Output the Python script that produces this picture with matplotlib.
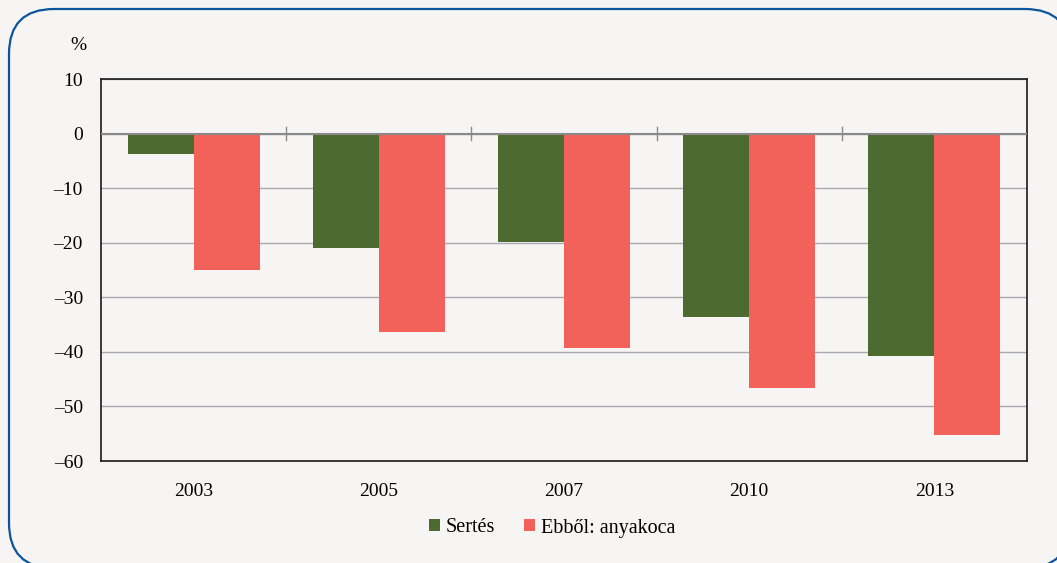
import matplotlib.pyplot as plt
import numpy as np
from matplotlib.patches import FancyBboxPatch

# Data
years = ['2003', '2005', '2007', '2010', '2013']
sertes = [-3.7, -21.0, -19.9, -33.6, -40.8]
anyakoca = [-25.0, -36.4, -39.3, -46.6, -55.2]

bg = '#f7f5f3'
green = '#4d6a30'
red = '#f2625a'

plt.rcParams['font.family'] = ['Liberation Serif', 'DejaVu Serif']

fig = plt.figure(figsize=(10.57, 5.63), dpi=100, facecolor=bg)
ax = fig.add_axes([101 / 1057, 1 - 461 / 563, 926 / 1057, 382 / 563])
ax.set_facecolor(bg)

# rounded blue frame (inches), partly running off the right and bottom edges
# filled so that Agg does not clip/distort the curve at the canvas edge
frame = FancyBboxPatch((0.09, -0.05), 10.61, 5.59,
                       boxstyle='round,pad=0,rounding_size=0.45',
                       transform=fig.dpi_scale_trans, facecolor=bg,
                       edgecolor='#0b559c', linewidth=1.6, clip_on=False,
                       zorder=-1)
fig.patches.append(frame)

x = np.arange(len(years))
w = 0.356
ax.bar(x - w / 2, sertes, w, color=green, label='Sertés', zorder=3)
ax.bar(x + w / 2, anyakoca, w, color=red, label='Ebből: anyakoca', zorder=3)

ax.set_xlim(-0.5, len(years) - 0.5)
ax.set_ylim(-60, 10)
ax.set_yticks(np.arange(-60, 11, 10))
ax.set_yticklabels([str(v).replace('-', '–') for v in range(-60, 11, 10)])
ax.yaxis.grid(True, color='#a8a8b0', linewidth=1, zorder=0)
ax.axhline(0, color='#8a8a8a', linewidth=1.5, zorder=4)

# category boundary ticks on the zero line
for b in x[:-1] + 0.5:
    ax.plot([b, b], [-1.25, 1.25], color='#8a8a8a', linewidth=1, zorder=4)

ax.set_xticks(x)
ax.set_xticklabels(years)
ax.tick_params(axis='x', length=0, pad=16, labelsize=14)
ax.tick_params(axis='y', length=0, pad=13, labelsize=14)
for s in ax.spines.values():
    s.set_color('#1a1a1a')
    s.set_linewidth(1.2)

fig.text(78 / 1057, 1 - 45 / 563, '%', ha='center', va='center', fontsize=14)

fig.legend(loc='center', bbox_to_anchor=(552 / 1057, 1 - 528 / 563), ncol=2,
           frameon=False, fontsize=14.5, handlelength=0.55, handleheight=0.55,
           handletextpad=0.3, columnspacing=1.4)

fig.savefig('out.png', dpi=100, facecolor=bg)
